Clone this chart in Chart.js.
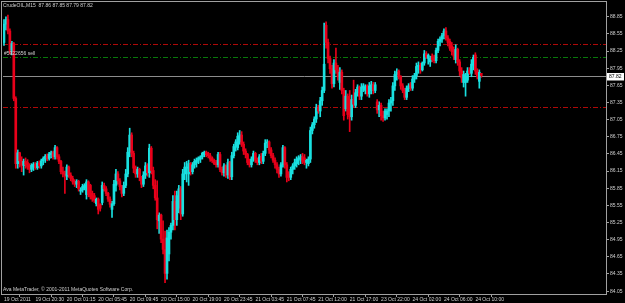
<!DOCTYPE html>
<html><head><meta charset="utf-8">
<script src="https://cdn.jsdelivr.net/npm/chart.js@4.4.1/dist/chart.umd.min.js"></script>
<style>html,body{margin:0;padding:0;background:#000;overflow:hidden}canvas{display:block}</style>
</head><body>
<canvas id="c" width="625" height="303"></canvas>
<script>
const symbolTitle = 'CrudeOIL,M15  87.86 87.85 87.79 87.82';
const copyrightText = 'Ava MetaTrader, \u00a9 2001-2011 MetaQuotes Software Corp.';
const orderLabel = '#5922656 sell';
const timeLabels = ['19 Oct 2011','19 Oct 20:30','20 Oct 01:15','20 Oct 05:45','20 Oct 09:45','20 Oct 15:00','20 Oct 19:00','20 Oct 23:45','21 Oct 03:45','21 Oct 07:45','21 Oct 12:00','21 Oct 17:00','23 Oct 22:00','24 Oct 02:00','24 Oct 06:00','24 Oct 10:00'];
const priceTicks = ['84.05','84.35','84.65','84.95','85.25','85.55','85.85','86.15','86.45','86.75','87.05','87.35','87.65','87.95','88.25','88.55','88.85'];
const currentPrice = 87.82;
const redLevels = [88.38, 87.27];
const greenLevels = [88.14];

const openP = [
88.40,88.72,88.80,88.60,88.26,88.38,87.42,86.28,86.47,86.33,
86.25,86.32,86.30,86.24,86.18,86.22,86.27,86.21,86.29,86.24,
86.33,86.36,86.41,86.37,86.44,86.47,86.40,86.56,86.40,86.32,
86.14,86.10,86.06,86.22,86.08,86.02,85.96,85.92,85.97,85.80,
85.82,85.86,85.74,85.96,85.90,85.76,85.72,85.58,85.66,85.56,
85.60,85.90,85.84,85.76,85.66,85.48,85.58,85.90,86.10,85.98,
85.88,85.76,85.90,86.10,86.48,86.78,86.46,86.20,86.10,86.18,
86.04,85.92,86.08,86.24,86.12,86.55,86.16,85.90,85.68,85.28,
85.38,84.96,84.78,84.36,84.70,85.08,85.20,85.62,85.30,85.50,
85.84,85.40,86.10,86.20,86.10,86.28,86.14,86.26,86.30,86.34,
86.36,86.40,86.44,86.48,86.46,86.42,86.38,86.34,86.30,86.26,
86.44,86.18,86.12,86.24,86.08,86.30,86.05,86.42,86.58,86.56,
86.66,86.78,86.62,86.50,86.44,86.30,86.26,86.36,86.46,86.34,
86.30,86.40,86.32,86.46,86.64,86.66,86.52,86.42,86.34,86.26,
86.18,86.10,86.26,86.56,86.26,86.10,86.04,86.18,86.24,86.28,
86.36,86.34,86.40,86.38,86.30,86.28,86.36,86.86,86.96,87.06,
87.26,87.20,87.38,87.56,88.70,88.40,88.12,87.94,87.68,88.04,
87.92,87.70,87.88,87.56,87.24,87.46,87.40,87.10,87.40,87.30,
87.52,87.62,87.46,87.60,87.56,87.64,87.50,87.56,87.66,87.56,
87.36,87.22,87.30,87.12,87.08,87.14,87.20,87.34,87.38,87.64,
87.84,87.90,87.80,87.64,87.56,87.44,87.60,87.66,87.60,87.76,
87.82,87.98,88.00,87.92,88.04,88.20,88.12,88.06,88.16,88.12,
88.08,88.26,88.42,88.46,88.52,88.60,88.48,88.42,88.34,88.26,
88.10,88.28,88.06,87.90,87.70,87.70,87.74,87.92,87.86,88.00,
88.18,87.90,87.72,87.86];
const highP = [
88.80,88.85,88.88,88.64,88.42,88.40,87.45,86.52,86.48,86.40,
86.36,86.38,86.35,86.28,86.28,86.30,86.30,86.32,86.33,86.36,
86.40,86.44,86.45,86.48,86.50,86.50,86.60,86.58,86.44,86.34,
86.22,86.15,86.26,86.24,86.12,86.06,86.00,86.00,85.99,85.86,
85.92,85.93,86.00,85.98,85.92,85.80,85.76,85.68,85.68,85.58,
85.96,85.94,85.88,85.78,85.70,85.62,85.99,86.18,86.14,86.02,
85.90,85.96,86.18,86.56,86.90,86.82,86.50,86.24,86.22,86.20,
86.06,86.14,86.30,86.28,86.62,86.58,86.22,86.00,85.98,85.42,
85.40,85.28,85.10,85.12,85.16,85.24,85.72,85.80,85.80,85.90,
85.88,86.18,86.30,86.32,86.34,86.30,86.30,86.36,86.38,86.40,
86.42,86.48,86.50,86.50,86.48,86.46,86.40,86.36,86.34,86.48,
86.48,86.22,86.28,86.26,86.36,86.32,86.48,86.62,86.70,86.82,
86.86,86.84,86.66,86.54,86.46,86.36,86.40,86.50,86.48,86.38,
86.44,86.46,86.50,86.70,86.70,86.68,86.56,86.46,86.38,86.30,
86.22,86.30,86.60,86.58,86.30,86.14,86.22,86.28,86.36,86.40,
86.42,86.44,86.46,86.44,86.36,86.40,86.92,87.00,87.10,87.32,
87.30,87.44,87.62,88.74,88.76,88.46,88.16,88.00,88.10,88.30,
88.00,87.96,87.92,87.60,87.56,87.50,87.56,87.48,87.74,87.58,
87.66,87.64,87.68,87.68,87.66,87.66,87.70,87.72,87.70,87.70,
87.40,87.36,87.34,87.20,87.24,87.24,87.40,87.44,87.70,87.90,
87.94,87.92,87.82,87.68,87.60,87.64,87.68,87.70,87.82,87.86,
88.04,88.06,88.04,88.06,88.26,88.24,88.20,88.16,88.20,88.18,
88.30,88.46,88.50,88.56,88.64,88.66,88.52,88.46,88.40,88.32,
88.36,88.30,88.10,87.96,87.90,87.86,87.96,87.96,88.10,88.18,
88.22,87.94,87.92,87.86];
const lowP = [
88.35,88.62,88.55,88.20,88.18,87.38,86.20,86.20,86.22,86.14,
86.08,86.20,86.18,86.12,86.14,86.16,86.18,86.18,86.20,86.20,
86.26,86.30,86.33,86.34,86.38,86.36,86.36,86.36,86.28,86.10,
86.05,85.76,86.00,86.04,85.98,85.92,85.88,85.86,85.80,85.74,
85.78,85.82,85.66,85.70,85.66,85.62,85.60,85.54,85.40,85.45,
85.56,85.80,85.72,85.62,85.52,85.34,85.55,85.80,85.92,85.82,
85.70,85.72,85.86,86.05,86.40,86.40,86.12,86.04,86.04,85.98,
85.86,85.88,86.02,86.06,86.04,86.10,85.84,85.64,85.14,85.06,
84.90,84.70,84.20,84.26,84.58,84.96,85.12,85.12,85.20,85.42,
85.30,85.36,86.00,85.96,85.90,86.08,86.10,86.20,86.22,86.28,
86.30,86.36,86.40,86.40,86.38,86.32,86.30,86.26,86.22,86.22,
86.14,86.08,86.06,86.04,86.02,86.00,86.00,86.38,86.50,86.52,
86.62,86.58,86.44,86.38,86.26,86.22,86.22,86.32,86.30,86.26,
86.26,86.28,86.28,86.42,86.56,86.46,86.38,86.30,86.20,86.12,
86.04,86.06,86.22,86.20,85.96,85.98,86.00,86.10,86.18,86.22,
86.26,86.28,86.28,86.26,86.20,86.24,86.30,86.80,86.90,87.00,
87.16,87.10,87.30,87.52,88.30,88.04,87.86,87.60,87.62,87.86,
87.74,87.58,87.50,87.04,87.20,87.06,86.84,87.04,87.26,87.26,
87.46,87.40,87.40,87.54,87.50,87.46,87.44,87.50,87.50,87.52,
87.16,87.10,87.04,87.02,87.04,87.06,87.10,87.20,87.30,87.56,
87.74,87.76,87.58,87.52,87.40,87.40,87.54,87.56,87.56,87.70,
87.76,87.86,87.86,87.90,88.00,88.12,88.02,87.98,88.06,88.04,
88.04,88.22,88.34,88.40,88.46,88.44,88.34,88.26,88.18,88.10,
88.04,88.00,87.82,87.70,87.62,87.46,87.70,87.84,87.80,87.92,
87.84,87.76,87.60,87.79];
const closeP = [
88.72,88.80,88.60,88.26,88.38,87.42,86.28,86.47,86.33,86.25,
86.32,86.26,86.22,86.18,86.25,86.27,86.21,86.29,86.24,86.33,
86.37,86.41,86.37,86.45,86.47,86.40,86.56,86.40,86.32,86.14,
86.10,86.08,86.22,86.08,86.02,85.96,85.92,85.97,85.84,85.82,
85.88,85.90,85.96,85.74,85.70,85.66,85.64,85.66,85.48,85.50,
85.90,85.84,85.76,85.66,85.57,85.58,85.92,86.10,85.98,85.88,
85.76,85.90,86.10,86.48,86.78,86.46,86.20,86.10,86.18,86.04,
85.92,86.08,86.24,86.12,86.55,86.16,85.90,85.68,85.30,85.38,
84.96,84.78,84.36,84.98,85.08,85.20,85.62,85.30,85.72,85.84,
85.40,86.10,86.22,86.22,86.28,86.14,86.26,86.32,86.34,86.38,
86.40,86.46,86.48,86.44,86.42,86.36,86.33,86.28,86.26,86.44,
86.18,86.12,86.24,86.08,86.30,86.05,86.42,86.58,86.66,86.76,
86.78,86.62,86.50,86.44,86.30,86.26,86.36,86.46,86.34,86.30,
86.40,86.32,86.46,86.64,86.66,86.52,86.42,86.34,86.26,86.18,
86.10,86.26,86.56,86.26,86.04,86.04,86.18,86.24,86.30,86.36,
86.37,86.40,86.32,86.30,86.34,86.36,86.86,86.96,87.06,87.26,
87.20,87.38,87.56,88.02,88.40,88.12,87.94,87.68,88.04,87.92,
87.80,87.88,87.56,87.12,87.46,87.14,87.10,87.40,87.32,87.52,
87.62,87.46,87.62,87.64,87.62,87.50,87.64,87.66,87.56,87.66,
87.22,87.30,87.12,87.08,87.20,87.20,87.34,87.38,87.64,87.84,
87.88,87.80,87.64,87.56,87.44,87.60,87.64,87.60,87.76,87.82,
87.98,88.00,87.92,88.04,88.20,88.14,88.18,88.12,88.10,88.08,
88.26,88.42,88.46,88.52,88.60,88.48,88.40,88.30,88.24,88.16,
88.28,88.06,87.90,87.78,87.84,87.80,87.90,87.86,88.02,88.14,
87.90,87.80,87.88,87.82];

const SLOTS = 307;
const LABEL_EVERY = 16;
const UP = '#19e0e0', DOWN = '#e8001a';
const FONT = {family: 'Liberation Sans', size: 5, lineHeight: 1};

const wickData = openP.map((o, i) => ({x: i, y: [lowP[i], highP[i]]}));
const bodyData = openP.map((o, i) => ({x: i, y: [Math.min(o, closeP[i]), Math.max(o, closeP[i])]}));
const colorOf = ctx => closeP[ctx.dataIndex] >= openP[ctx.dataIndex] ? UP : DOWN;

const overlay = {
  id: 'overlay',
  beforeDraw(chart) {
    const c = chart.ctx; c.save(); c.fillStyle = '#000'; c.fillRect(0, 0, chart.width, chart.height); c.restore();
  },
  beforeDatasetsDraw(chart) {
    const {ctx, chartArea: a, scales: {y}} = chart;
    ctx.save(); ctx.lineWidth = 1;
    const hline = (v, color, dash) => {
      const py = Math.round(y.getPixelForValue(v)) + 0.5;
      ctx.strokeStyle = color; ctx.setLineDash(dash);
      ctx.beginPath(); ctx.moveTo(a.left, py); ctx.lineTo(a.right, py); ctx.stroke();
    };
    redLevels.forEach(v => hline(v, '#b00808', [5, 2, 1, 2]));
    greenLevels.forEach(v => hline(v, '#08780a', [5, 2, 1, 2]));
    hline(currentPrice, '#8c8c8c', []);
    ctx.restore();
  },
  afterDraw(chart) {
    const {ctx, chartArea: a, scales: {y}} = chart;
    ctx.save();
    ctx.strokeStyle = '#a0a0a0'; ctx.lineWidth = 1; ctx.setLineDash([]);
    ctx.strokeRect(a.left - 1.5, a.top - 1.5, a.right - a.left + 2, a.bottom - a.top + 2);
    ctx.font = '5px "Liberation Sans"';
    ctx.textBaseline = 'middle'; ctx.textAlign = 'left';
    ctx.fillStyle = '#d0d0d0';
    ctx.fillText(symbolTitle, a.left, a.top + 2.5);
    ctx.fillText(copyrightText, a.left, a.bottom - 4);
    const gy = y.getPixelForValue(greenLevels[0]);
    ctx.fillText(orderLabel, a.left + 1, gy - 4);
    const py = Math.round(y.getPixelForValue(currentPrice)) + 0.5;
    ctx.fillStyle = '#ffffff';
    ctx.fillRect(a.right + 1, py - 3.5, 17, 7.5);
    ctx.fillStyle = '#000000';
    ctx.fillText(currentPrice.toFixed(2), a.right + 3, py + 0.3);
    ctx.restore();
  }
};

new Chart(document.getElementById('c'), {
  type: 'bar',
  data: {
    datasets: [
      {data: bodyData, barThickness: 2, minBarLength: 1, grouped: false, backgroundColor: colorOf, borderWidth: 0, order: 1},
      {data: wickData, barThickness: 1, grouped: false, backgroundColor: colorOf, borderWidth: 0, order: 2}
    ]
  },
  options: {
    responsive: false, animation: false, devicePixelRatio: 1,
    layout: {padding: {left: 3, top: 3, right: 0, bottom: 0}},
    plugins: {legend: {display: false}, tooltip: {enabled: false}},
    scales: {
      x: {
        type: 'linear', min: -0.5, max: SLOTS - 0.5, offset: false,
        grid: {display: true, drawOnChartArea: false, drawTicks: true, tickLength: 3, color: '#a0a0a0'},
        border: {display: false},
        ticks: {align: 'start', padding: 0, maxRotation: 0, autoSkip: false, color: '#d0d0d0', font: FONT,
          callback: (v, i) => timeLabels[i]},
        afterBuildTicks: s => { s.ticks = timeLabels.map((t, k) => ({value: k * LABEL_EVERY})); },
        afterFit: s => { s.height = 9; s.paddingLeft = 0; s.paddingRight = 0; }
      },
      y: {
        position: 'right', min: 84.0, max: 89.09,
        grid: {display: true, drawOnChartArea: false, drawTicks: true, tickLength: 3, color: '#a0a0a0'},
        border: {display: false},
        ticks: {padding: 1, color: '#d0d0d0', font: FONT, autoSkip: false, callback: v => Number(v).toFixed(2)},
        afterBuildTicks: s => { s.ticks = priceTicks.map(t => ({value: parseFloat(t)})); },
        afterFit: s => { s.width = 19; s.paddingTop = 0; s.paddingBottom = 0; }
      }
    }
  },
  plugins: [overlay]
});
</script>
</body></html>
